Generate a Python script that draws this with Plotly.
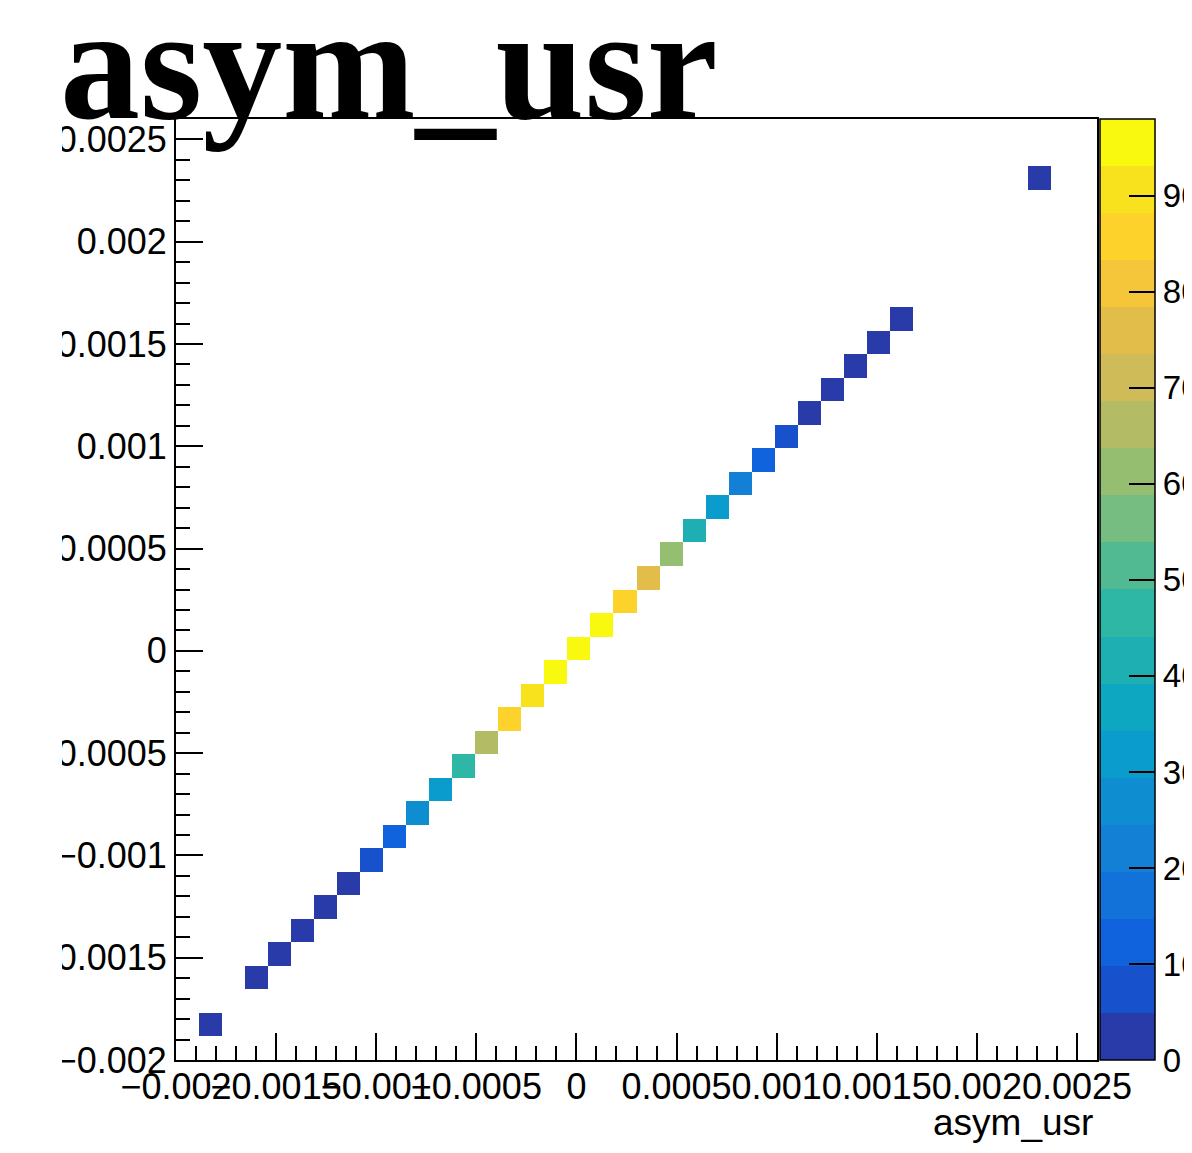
import plotly.graph_objects as go

# TH2 "asym_usr" : 40 x 40 bins from -0.002 to 0.0026 on both axes
nbins = 40
lo, hi = -0.002, 0.0026
bw = (hi - lo) / nbins

# filled cells (bin index along x, along y) and their contents
x_bins = [1, 3, 4, 5, 6, 7, 8, 9, 10, 11, 12, 13, 14, 15, 16, 17, 18, 19,
          20, 21, 22, 23, 24, 25, 26, 27, 28, 29, 30, 31, 37]
y_bins = [1, 3, 4, 5, 6, 7, 8, 9, 10, 11, 12, 13, 14, 15, 16, 17, 18, 19,
          20, 21, 22, 23, 24, 25, 26, 27, 28, 29, 30, 31, 37]
counts = [1, 1, 2, 2, 3, 4, 7, 12, 26, 32, 47, 66, 85, 91, 97, 98, 96, 86,
          76, 61, 42, 31, 22, 12, 7, 4, 3, 2, 1, 1, 1]
zmax = 98

z_ticks = [0, 10, 20, 30, 40, 50, 60, 70, 80, 90]

# kBird palette, 20 contour levels as drawn by ROOT
band_colors = ["#283ba8", "#1752cc", "#1063dc", "#1272d9", "#1480d5",
               "#0e8ed1", "#099ccc", "#0ea7c2", "#1eafb3", "#2eb7a4",
               "#51ba92", "#75bd80", "#95be71", "#b3bc65", "#d0bb59",
               "#e2bd4a", "#f5c63a", "#fdd22b", "#f8e21e", "#f9f90f"]
nb = len(band_colors)
cscale = []
for i, c in enumerate(band_colors):
    cscale.append([i / nb, c])
    cscale.append([(i + 1) / nb, c])

z = [[None] * nbins for _ in range(nbins)]
for ix, iy, c in zip(x_bins, y_bins, counts):
    z[iy][ix] = c

font = "Liberation Sans"
pw, ph = 921, 941  # plot area in px

fig = go.Figure(go.Heatmap(
    z=z, x0=lo + bw / 2, dx=bw, y0=lo + bw / 2, dy=bw,
    zmin=0, zmax=zmax, colorscale=cscale,
    hoverongaps=False,
    colorbar=dict(
        x=(1100 - 176) / pw, xanchor="left", xpad=0, y=0.5, yanchor="middle", ypad=0,
        len=1, thickness=55, outlinewidth=1.5, outlinecolor="black",
        tickmode="array", tickvals=z_ticks, ticks="inside", ticklen=26,
        tickwidth=2, tickcolor="black",
        tickfont=dict(family=font, size=33, color="black"),
    ),
))

axis_common = dict(
    range=[lo, hi], showgrid=False, zeroline=False, automargin=False,
    showline=True, linecolor="black", linewidth=2, mirror=True,
    ticks="inside", ticklen=27, tickwidth=2, tickcolor="black",
    tick0=0, dtick=0.0005, tickformat="~g",
    minor=dict(ticks="inside", ticklen=14, tickwidth=2, tickcolor="black",
               dtick=0.0001, tick0=0),
    tickfont=dict(family=font, size=36, color="black"),
)
fig.update_xaxes(**axis_common, tickangle=0, ticklabelstandoff=-6)
fig.update_yaxes(**axis_common)

# page body adds an 8px offset, so the figure is 8px smaller and shifted
fig.update_layout(
    width=1184, height=1145,
    margin=dict(l=168, r=95, t=111, b=93, autoexpand=False),
    plot_bgcolor="white", paper_bgcolor="white",
    showlegend=False,
    shapes=[dict(type="rect", xref="paper", yref="paper", layer="above",
                 x0=-0.2, x1=(62 - 176) / pw, y0=-0.1, y1=1.02,
                 fillcolor="white", line=dict(width=0))],
    annotations=[
        dict(text="<b>asym_usr</b>", xref="paper", yref="paper",
             x=(58 - 176) / pw, y=1, xanchor="left", yanchor="bottom",
             yshift=-36, showarrow=False,
             font=dict(family="Liberation Serif", size=160, color="black")),
        dict(text="asym_usr", xref="paper", yref="paper",
             x=(1095 - 176) / pw, y=(1060 - 1122) / ph,
             xanchor="right", yanchor="middle", showarrow=False,
             font=dict(family=font, size=37, color="black")),
    ],
)

fig.write_html("out.html")
